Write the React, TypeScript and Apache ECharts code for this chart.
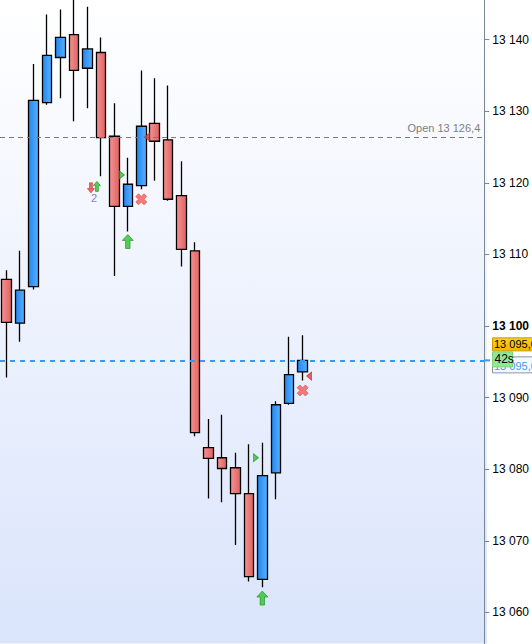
import React, { useEffect, useRef } from "react";
import * as echarts from "echarts";

// ---- data ----
const slotCount = 36; // visible time slots (incl. empty future slots)
const categories: string[] = Array.from({ length: slotCount }, (_, i) => String(i));
const opens = [13106.5, 13100.4, 13105.5, 13131.2, 13137.5, 13140.7, 13136.0, 13138.2, 13126.5, 13116.7, 13119.6, 13128.3, 13126.0, 13118.2, 13110.5, 13083.0, 13081.6, 13080.2, 13076.6, 13064.6, 13079.5, 13089.2, 13093.6];
const closes = [13100.5, 13105.0, 13131.5, 13137.8, 13140.3, 13135.7, 13138.7, 13126.3, 13116.7, 13119.8, 13127.9, 13125.8, 13117.7, 13110.7, 13085.1, 13081.5, 13080.1, 13076.6, 13065.0, 13079.1, 13089.0, 13093.2, 13095.2];
const lows = [13092.8, 13097.8, 13105.1, 13130.9, 13131.8, 13128.6, 13130.4, 13120.9, 13107.0, 13113.2, 13119.1, 13120.3, 13117.5, 13108.3, 13084.6, 13075.9, 13075.4, 13069.4, 13064.3, 13063.5, 13075.8, 13089.0, 13092.4];
const highs = [13107.8, 13110.5, 13136.6, 13143.5, 13144.2, 13146.5, 13144.6, 13140.3, 13131.1, 13123.5, 13135.7, 13134.6, 13133.6, 13123.0, 13111.7, 13087.0, 13087.6, 13082.3, 13083.5, 13083.7, 13089.5, 13098.5, 13098.7];
const yTicks = [13060, 13070, 13080, 13090, 13100, 13110, 13120, 13130, 13140];
const openLevel = 13126.4;
const lastPrice = 13095.2;
const lastPriceText = "13 095,0";
const timerText = "42s";

// trade markers: [slot, price, x-offset]
const buyArrows: [number, number][] = [[9, 13111.8], [19, 13062.0]];
const exitCrosses: [number, number][] = [[10, 13117.7], [22, 13091.0]];
const redLeftTris: [number, number, number][] = [[11, 13126.4, -7.5], [22, 13093.0, 6.5]];
const greenRightTris: [number, number, number][] = [[8, 13121.1, 7.5], [18, 13081.6, 7]];
const smallSell: [number, number, number][] = [[6, 13119.3, 3.5]];
const smallBuy: [number, number, number][] = [[6, 13119.5, 9.5]];
const countLabels: [number, number, number, string][] = [[6, 13117.9, 6.5, "2"]];

const fmt = (v: number) => {
  const r = Math.round(v);
  return `${Math.floor(r / 1000)} ${String(r % 1000).padStart(3, "0")}`;
};
const fmtPrice = (v: number) => {
  const whole = Math.floor(v);
  const dec = Math.round((v - whole) * 10);
  return fmt(whole) + "," + dec;
};

const FONT = "Liberation Sans, Arial, sans-serif";

const UP_ARROW = "path://M5,0 L10,5.5 L7,5.5 L7,13 L3,13 L3,5.5 L0,5.5 Z";
const DOWN_ARROW = "path://M3,0 L7,0 L7,7.5 L10,7.5 L5,13 L0,7.5 L3,7.5 Z";
const CROSS = "path://M2.5,0 L5,2.5 L7.5,0 L10,2.5 L7.5,5 L10,7.5 L7.5,10 L5,7.5 L2.5,10 L0,7.5 L2.5,5 L0,2.5 Z";
const LEFT_TRI = "path://M6,0 L6,8 L0,4 Z";
const RIGHT_TRI = "path://M0,0 L6,4 L0,8 Z";

// layout: the value range 13050..13150 is mapped on a canvas taller than the page
const PAGE_W = 532;
const PAGE_H = 644;
const PX_PER_UNIT = 7.16;
const Y_MIN = 13050;
const Y_MAX = 13150;
const CHART_H = (Y_MAX - Y_MIN) * PX_PER_UNIT; // 716
const CHART_TOP = -((Y_MAX - 13140) * PX_PER_UNIT - 40); // 13140 sits at page y=40

export default function App() {
  const ref = useRef<HTMLDivElement>(null);
  useEffect(() => {
    document.body.style.margin = "0";
    if (!ref.current) return;
    const chart = echarts.init(ref.current, undefined, { renderer: "svg" });
    const W = PAGE_W;
    const gridRight = 45;
    const visTop = -CHART_TOP;

    const candleData = opens.map((o, i) => [o, closes[i], lows[i], highs[i]]);

    const blueGrad = new echarts.graphic.LinearGradient(0, 0, 1, 0, [
      { offset: 0, color: "#2486f0" },
      { offset: 1, color: "#56b2ff" },
    ]);
    const redGrad = new echarts.graphic.LinearGradient(0, 0, 1, 0, [
      { offset: 0, color: "#f49292" },
      { offset: 1, color: "#e06262" },
    ]);

    const markerSeries = (name: string, data: any[], symbol: string, size: number[], color: string, border: string) => ({
      type: "scatter",
      name,
      z: 5,
      symbol,
      symbolSize: size,
      itemStyle: { color, borderColor: border, borderWidth: 0.8 },
      data,
      silent: true,
    });

    const bgRect = {
      type: "rect",
      z: -10,
      silent: true,
      shape: { x: 0, y: visTop, width: W - gridRight, height: PAGE_H },
      style: {
        fill: new echarts.graphic.LinearGradient(0, 0, 0, 1, [
          { offset: 0, color: "#ffffff" },
          { offset: 1, color: "#dae4fb" },
        ]),
      },
    };

    chart.setOption({
      animation: false,
      grid: { left: 0, right: gridRight, top: 0, bottom: 0 },
      xAxis: {
        type: "category",
        data: categories,
        boundaryGap: true,
        show: false,
      },
      yAxis: {
        type: "value",
        position: "right",
        min: Y_MIN,
        max: Y_MAX,
        interval: 10,
        splitLine: { show: false },
        axisLine: { show: true, lineStyle: { color: "#7b8794", width: 1 } },
        axisTick: { show: true, length: 5, lineStyle: { color: "#7b8794" } },
        axisLabel: {
          margin: 8,
          color: "#000",
          fontSize: 12,
          fontFamily: FONT,
          formatter: (v: number) =>
            yTicks.includes(v) ? (v === 13100 ? `{b|${fmt(v)}}` : fmt(v)) : "",
          rich: { b: { fontWeight: "bold", fontSize: 12, fontFamily: FONT, color: "#000" } },
        },
      },
      graphic: [bgRect],
      series: [
        {
          type: "candlestick",
          data: candleData,
          barWidth: 10,
          z: 3,
          itemStyle: {
            color: blueGrad,
            color0: redGrad,
            borderColor: "#000",
            borderColor0: "#000",
            borderWidth: 1.3,
          },
          markLine: {
            silent: true,
            symbol: ["none", "none"],
            data: [
              {
                yAxis: openLevel,
                lineStyle: { color: "#7a7a7a", type: [5, 4], width: 1 },
                label: {
                  show: true,
                  position: "insideEndTop",
                  formatter: "Open " + fmtPrice(openLevel),
                  color: "#7f7f7f",
                  fontSize: 11,
                  fontFamily: FONT,
                  distance: [4, 3],
                },
              },
              {
                yAxis: lastPrice,
                lineStyle: { color: "#3b97f3", type: [5, 5], width: 2 },
                label: { show: false },
              },
            ],
          },
        },
        markerSeries("buy", buyArrows, UP_ARROW, [11, 14], "#2fc22f", "#1a8f1a"),
        markerSeries("exit", exitCrosses, CROSS, [11, 11], "#f25a5a", "#e04848"),
        markerSeries("lt", redLeftTris.map((d) => ({ value: [d[0], d[1]], symbolOffset: [d[2], 0] })), LEFT_TRI, [5, 8], "#e23c3c", "#c42a2a"),
        markerSeries("rt", greenRightTris.map((d) => ({ value: [d[0], d[1]], symbolOffset: [d[2], 0] })), RIGHT_TRI, [5, 8], "#34c034", "#1f951f"),
        markerSeries("ss", smallSell.map((d) => ({ value: [d[0], d[1]], symbolOffset: [d[2], 0] })), DOWN_ARROW, [7, 10], "#ee4444", "#cc3030"),
        markerSeries("sb", smallBuy.map((d) => ({ value: [d[0], d[1]], symbolOffset: [d[2], 0] })), UP_ARROW, [7, 10], "#2fbf2f", "#1a8f1a"),
        {
          type: "scatter",
          z: 5,
          silent: true,
          symbolSize: 0,
          data: countLabels.map((d) => ({ value: [d[0], d[1]], label: { offset: [d[2], 0], formatter: d[3] } })),
          label: { show: true, position: "inside", color: "#53689a", fontSize: 11, fontFamily: FONT },
        },
      ],
    });

    const py = chart.convertToPixel({ yAxisIndex: 0 }, lastPrice) as number;
    const bx = W - gridRight + 5;
    chart.setOption({
      graphic: [
        bgRect,
        {
          type: "line",
          z: 4,
          silent: true,
          shape: { x1: W - gridRight - 3, y1: py, x2: W - gridRight + 3, y2: py },
          style: { stroke: "#3b97f3", lineWidth: 2 },
        },
        {
          type: "rect",
          z: 6,
          silent: true,
          shape: { x: bx + 0.5, y: py - 22.5, width: 50, height: 13 },
          style: {
            fill: new echarts.graphic.LinearGradient(0, 0, 0, 1, [
              { offset: 0, color: "#ffd21c" },
              { offset: 1, color: "#f0b400" },
            ]),
            stroke: "#c99a00",
            lineWidth: 1,
          },
        },
        {
          type: "text",
          z: 7,
          silent: true,
          x: bx + 2,
          y: py - 16,
          style: { text: lastPriceText, fill: "#000", font: `11px ${FONT}`, verticalAlign: "middle" },
        },
        {
          type: "rect",
          z: 6,
          silent: true,
          shape: { x: bx + 0.5, y: py - 3.5, width: 50, height: 16 },
          style: { fill: "#f3f7ff", stroke: "#8a96a4", lineWidth: 1 },
        },
        {
          type: "text",
          z: 7,
          silent: true,
          x: bx + 2,
          y: py + 5.5,
          style: { text: lastPriceText, fill: "#4a9cf5", font: `11px ${FONT}`, verticalAlign: "middle" },
        },
        {
          type: "rect",
          z: 8,
          silent: true,
          shape: { x: bx + 0.5, y: py - 8.5, width: 20, height: 15 },
          style: { fill: "#93e693", stroke: "#7fd07f", lineWidth: 1 },
        },
        {
          type: "text",
          z: 9,
          silent: true,
          x: bx + 2.5,
          y: py - 1,
          style: { text: timerText, fill: "#000", font: `12px ${FONT}`, verticalAlign: "middle" },
        },
      ],
    });

    return () => chart.dispose();
  }, []);
  return (
    <div
      style={{ position: "fixed", left: 0, top: 0, width: PAGE_W, height: PAGE_H, overflow: "hidden", background: "#fff" }}
    >
      <div
        ref={ref}
        style={{ position: "absolute", left: 0, top: CHART_TOP, width: PAGE_W, height: CHART_H }}
      />
    </div>
  );
}
